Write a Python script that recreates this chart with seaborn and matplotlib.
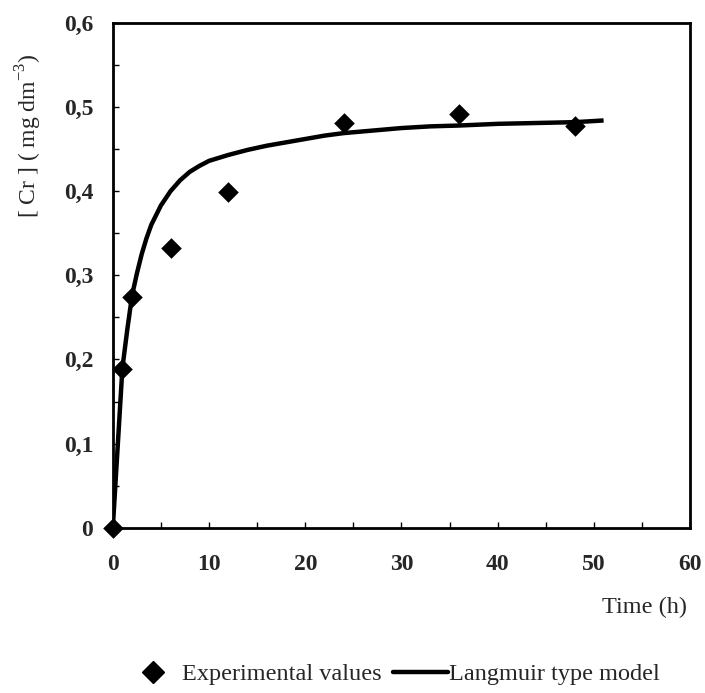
import matplotlib
matplotlib.use("Agg")
import matplotlib.pyplot as plt
import seaborn as sns
import pandas as pd
from matplotlib.ticker import MultipleLocator, FuncFormatter
from matplotlib.lines import Line2D

# Experimental data
exp_time = [0, 1, 2, 6, 12, 24, 36, 48]
exp_cr = [0.0, 0.189, 0.274, 0.333, 0.399, 0.481, 0.492, 0.477]

# Langmuir type model curve
mod_time = [0, 1, 1.5, 2, 2.5, 3, 3.5, 4, 5, 6, 7, 8, 9, 10, 12, 14, 16, 18,
            20, 22, 24, 27, 30, 33, 36, 40, 44, 48, 51]
mod_cr = [0.0, 0.19, 0.235, 0.276, 0.302, 0.325, 0.344, 0.360, 0.383, 0.400,
          0.413, 0.423, 0.430, 0.436, 0.443, 0.449, 0.454, 0.458, 0.462, 0.466,
          0.469, 0.472, 0.475, 0.477, 0.478, 0.480, 0.481, 0.482, 0.484]

x_ticks = [0, 10, 20, 30, 40, 50, 60]
y_ticks = [0, 0.1, 0.2, 0.3, 0.4, 0.5, 0.6]

sns.set_theme(style="white")
plt.rcParams['font.family'] = ['Liberation Serif', 'DejaVu Serif']
plt.rcParams['mathtext.fontset'] = 'custom'
plt.rcParams['mathtext.rm'] = 'Liberation Serif'

fig = plt.figure(figsize=(7.05, 6.93), dpi=100)
ax = fig.add_axes([0.160, 0.2385, 0.819, 0.7285])

df_exp = pd.DataFrame({"t": exp_time, "c": exp_cr})
df_mod = pd.DataFrame({"t": mod_time, "c": mod_cr})

sns.lineplot(data=df_mod, x="t", y="c", ax=ax, color="black", linewidth=3.2,
             sort=False, estimator=None, zorder=2, solid_joinstyle="round",
             solid_capstyle="butt")
sns.scatterplot(data=df_exp, x="t", y="c", ax=ax, color="black", marker="D",
                s=110, edgecolor="black", linewidth=0, zorder=3, clip_on=False)

ax.set_xlim(0, 60)
ax.set_ylim(0, 0.6)
ax.set_xticks(x_ticks)
ax.set_yticks(y_ticks)
ax.xaxis.set_minor_locator(MultipleLocator(5))
ax.yaxis.set_minor_locator(MultipleLocator(0.05))
fmt = FuncFormatter(lambda v, p: ("%g" % round(v, 2)).replace(".", ","))
ax.yaxis.set_major_formatter(fmt)
ax.tick_params(axis="both", which="both", direction="in", length=4, width=1,
               color="black", bottom=True, left=True)
ax.tick_params(axis="x", which="major", pad=19, labelsize=17)
ax.tick_params(axis="y", which="major", pad=14, labelsize=17)
for lab in ax.get_xticklabels() + ax.get_yticklabels():
    lab.set_fontweight("bold")

for sp in ax.spines.values():
    sp.set_color("black")
    sp.set_linewidth(2.0)

ax.set_xlabel("")
ax.set_ylabel(r"[ Cr ] ( mg dm$^{\mathregular{-3}}$)", fontsize=17)
ax.yaxis.set_label_coords(-0.12, 0.776)

fig.text(0.975, 1 - 607 / 693, "Time (h)", ha="right", va="center",
         fontsize=17.5)

handles = [
    Line2D([], [], color="black", marker="D", linestyle="none", markersize=11.5),
    Line2D([], [], color="black", linewidth=3.2),
]
fig.legend(handles, ["Experimental values", "Langmuir type model"],
           loc="center", bbox_to_anchor=(0.557, 1 - 674 / 693), ncol=2,
           frameon=False, fontsize=17.5, handlelength=2.26, handletextpad=0.08,
           columnspacing=0.45)

fig.savefig("out.png", dpi=100)
